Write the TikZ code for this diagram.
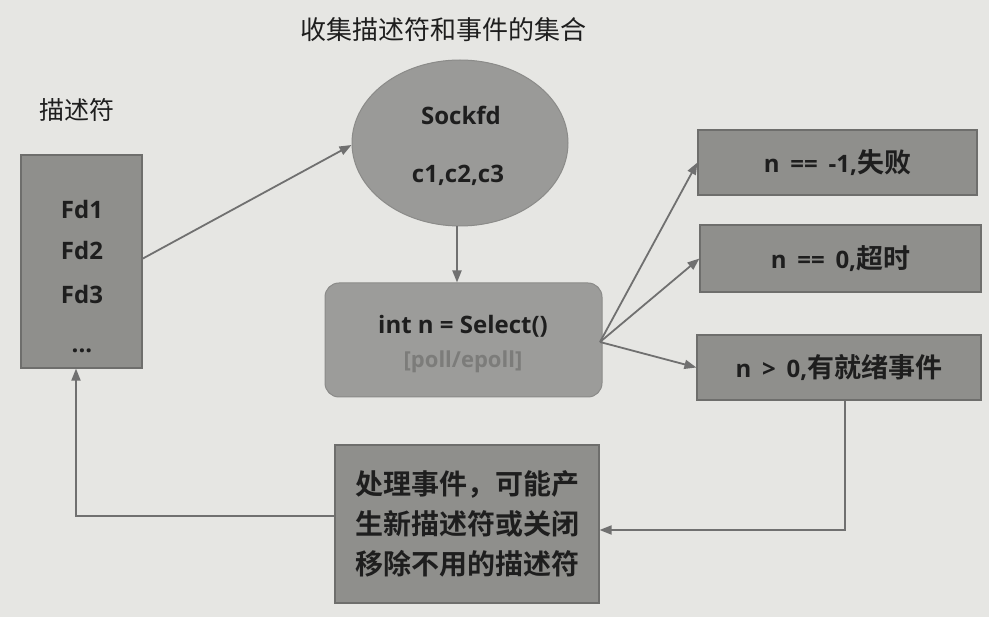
\documentclass[tikz,border=0pt]{standalone}
\usepackage{fontspec}
\setmainfont{Open Sans}
\newfontfamily\cjk{Noto Sans CJK SC}[BoldFont={Noto Sans CJK SC Bold}]
\usetikzlibrary{arrows.meta,shapes.geometric}
\definecolor{bg}{HTML}{E6E6E3}
\definecolor{boxfill}{HTML}{8F8F8C}
\definecolor{ellfill}{HTML}{9A9A98}
\definecolor{selfill}{HTML}{9C9C9A}
\definecolor{edge}{HTML}{6E6E6C}
\definecolor{arrowc}{HTML}{707070}
\definecolor{ink}{HTML}{1E1E1E}
\definecolor{faint}{HTML}{7C7C7A}
\tikzset{
  box/.style={draw=edge, line width=1.2pt, fill=boxfill, text=ink, font=\bfseries\fontsize{24}{28}\selectfont},
  lbl/.style={text=ink, font=\bfseries\fontsize{24}{28}\selectfont},
  conn/.style={draw=arrowc, line width=1.8pt, -{Triangle[length=12pt,width=9pt]}},
}
\newcommand{\wsp}{\hspace{0.45em}}
\begin{document}
\begin{tikzpicture}[x=1pt,y=-1pt]
\useasboundingbox (0,0) rectangle (989,617);
\fill[bg] (0,0) rectangle (989,617);

% labels
\node[text=ink, font=\cjk\fontsize{26}{30}\selectfont] (title) at (443,30) {收集描述符和事件的集合};
\node[text=ink, font=\cjk\fontsize{25}{30}\selectfont] (fdlabel) at (77,110) {描述符};

% left descriptor box
\node[box, minimum width=121pt, minimum height=213pt, inner sep=0pt] (fds) at (81.5,261.5) {};
\node[lbl] (fd1) at (82,210) {Fd1};
\node[lbl] (fd2) at (82,251) {Fd2};
\node[lbl] (fd3) at (82,295) {Fd3};
\node[lbl] (fddots) at (82,351) {...};

% ellipse
\node[ellipse, draw=edge!80, line width=1pt, fill=ellfill, minimum width=216pt, minimum height=166pt, inner sep=0pt] (set) at (460,143) {};
\node[lbl] (sock) at (461,115) {Sockfd};
\node[lbl] (cs) at (458,175) {c1,c2,c3};

% select box
\node[draw=edge!80, line width=1pt, fill=selfill, rounded corners=14pt, minimum width=277pt, minimum height=114pt, inner sep=0pt] (sel) at (463.5,340) {};
\node[lbl] (selt) at (463,326) {int n = Select()};
\node[text=faint, font=\bfseries\fontsize{22}{26}\selectfont] (selp) at (463,362) {[poll/epoll]};

% result boxes
\node[box, minimum width=279pt, minimum height=65pt, inner sep=0pt] (r1) at (837.5,162.5) {n\wsp==\wsp-1,{\cjk\fontsize{27}{30}\selectfont 失败}};
\node[box, minimum width=281pt, minimum height=67pt, inner sep=0pt] (r2) at (840.5,258.5) {n\wsp==\wsp0,{\cjk\fontsize{27}{30}\selectfont 超时}};
\node[box, minimum width=284pt, minimum height=65pt, inner sep=0pt] (r3) at (839,367.5) {n\wsp>\wsp0,{\cjk\fontsize{27}{30}\selectfont 有就绪事件}};

% process box
\node[box, minimum width=264pt, minimum height=158pt, inner sep=0pt, align=center,
      font=\cjk\bfseries\fontsize{28}{40}\selectfont] (proc) at (467,524) {处理事件，可能产\\生新描述符或关闭\\移除不用的描述符};

% connectors
\coordinate (selr) at (600,342);
\coordinate (a1) at (142,259);
\coordinate (down) at (457,0);
\coordinate (corner1) at (845,530);
\coordinate (corner2) at (76,516);

\draw[conn] (a1) -- (set.west |- 0,145);
\draw[conn] (set.south -| down) -- (sel.north -| down);
\draw[conn] (selr) -- (r1.west);
\draw[conn] (selr) -- (r2.west);
\draw[conn] (selr) -- (r3.west);
\draw[conn] (r3.south -| corner1) -- (corner1) -- (proc.east |- corner1);
\draw[conn] (proc.west |- corner2) -- (corner2) -- (fds.south -| corner2);
\end{tikzpicture}
\end{document}
